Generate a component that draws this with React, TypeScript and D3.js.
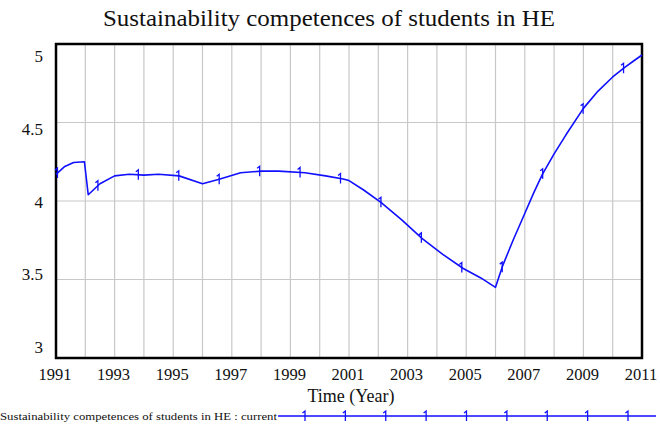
import React from "react";
import * as d3 from "d3";

const TITLE = "Sustainability competences of students in HE";
const X_LABEL = "Time (Year)";
const LEGEND_LABEL = "Sustainability competences of students in HE : current";

const years = [1991, 1991.3, 1991.6, 1991.97, 1992.1, 1992.5, 1993.0, 1993.5, 1994.0, 1994.5, 1995.2, 1996.0, 1996.6, 1997.3, 1998.0, 1998.6, 1999.5, 2000.2, 2000.8, 2001.0, 2001.5, 2002.1, 2002.8, 2003.5, 2004.2, 2004.9, 2005.5, 2006.0, 2006.25, 2006.6, 2006.95, 2007.3, 2007.6, 2008.0, 2008.4, 2009.0, 2009.5, 2010.0, 2010.4, 2010.7, 2011];
const values = [4.17, 4.22, 4.245, 4.25, 4.04, 4.11, 4.16, 4.17, 4.165, 4.17, 4.16, 4.11, 4.14, 4.18, 4.19, 4.19, 4.18, 4.16, 4.14, 4.13, 4.07, 3.99, 3.88, 3.76, 3.66, 3.57, 3.51, 3.45, 3.59, 3.75, 3.9, 4.05, 4.17, 4.3, 4.42, 4.59, 4.7, 4.79, 4.85, 4.89, 4.93];
const markerYears = [1991.05, 1992.43, 1993.81, 1995.19, 1996.57, 1997.95, 1999.33, 2000.71, 2002.09, 2003.47, 2004.85, 2006.23, 2007.61, 2008.99, 2010.37];

const xTicks = [1991, 1993, 1995, 1997, 1999, 2001, 2003, 2005, 2007, 2009, 2011];
const xGrid = d3.range(1991, 2012, 1);
const yTicks = [3, 3.5, 4, 4.5, 5];
const yTickLabels = ["3", "3.5", "4", "4.5", "5"];
const legendMarkerCount = 9;

const FONT = "'Liberation Serif', 'Times New Roman', serif";
const BLUE = "#1010ff";

function Marker({ x, y }: { x: number; y: number }) {
  return (
    <path
      d={`M${x - 2.5},${y - 3} L${x},${y - 5} L${x},${y + 5}`}
      fill="none"
      stroke={BLUE}
      strokeWidth={1.3}
    />
  );
}

export default function App() {
  const W = 660, H = 424;
  const left = 56, right = 642, top = 44, bottom = 358;
  const x = d3.scaleLinear().domain([1991, 2011]).range([left, right]);
  const y = d3.scaleLinear().domain([3, 5]).range([bottom, top]);
  const yLab = d3.scaleLinear().domain([3, 5]).range([353, 62]);
  const interp = d3.scaleLinear().domain(years).range(values);

  const line = d3
    .line<number>()
    .x((_, i) => x(years[i]))
    .y((d) => y(d));

  const legX0 = 278, legX1 = 656, legY = 416;
  const legScale = d3.scaleLinear().domain([0, legendMarkerCount - 1]).range([305, 628]);

  return (
    <svg
      width={W}
      height={H}
      style={{ position: "absolute", left: 0, top: 0, background: "#fff" }}
      fontFamily={FONT}
    >
      <rect x={0} y={0} width={W} height={H} fill="#fff" />
      <text x={103} y={26} fontSize={24} fill="#111" textLength={452} lengthAdjust="spacingAndGlyphs">
        {TITLE}
      </text>
      {xGrid.map((g) => (
        <line key={"vx" + g} x1={x(g)} x2={x(g)} y1={top} y2={bottom} stroke="#c8c8c8" strokeWidth={1.2} />
      ))}
      {yTicks.map((t) => (
        <line key={"hy" + t} x1={left} x2={right} y1={y(t)} y2={y(t)} stroke="#c8c8c8" strokeWidth={1.2} />
      ))}
      <rect x={left} y={top} width={right - left} height={bottom - top} fill="none" stroke="#000" strokeWidth={2.5} />
      <path d={line(values) || ""} fill="none" stroke={BLUE} strokeWidth={1.6} strokeLinejoin="round" />
      {markerYears.map((m) => (
        <Marker key={"m" + m} x={x(m)} y={y(interp(m))} />
      ))}
      {yTicks.map((t, i) => (
        <text key={"yl" + t} x={43} y={yLab(t)} textAnchor="end" fontSize={17} fill="#111">
          {yTickLabels[i]}
        </text>
      ))}
      {xTicks.map((t) => (
        <text key={"xl" + t} x={x(t) - 1} y={380} textAnchor="middle" fontSize={16.5} fill="#111">
          {String(t)}
        </text>
      ))}
      <text x={351} y={402} textAnchor="middle" fontSize={18} fill="#111">
        {X_LABEL}
      </text>
      <text x={0} y={420} fontSize={10} fill="#111" textLength={277} lengthAdjust="spacingAndGlyphs">
        {LEGEND_LABEL}
      </text>
      <line x1={legX0} x2={legX1} y1={legY} y2={legY} stroke={BLUE} strokeWidth={1.5} />
      {d3.range(legendMarkerCount).map((i) => (
        <Marker key={"lm" + i} x={legScale(i)} y={legY} />
      ))}
    </svg>
  );
}
